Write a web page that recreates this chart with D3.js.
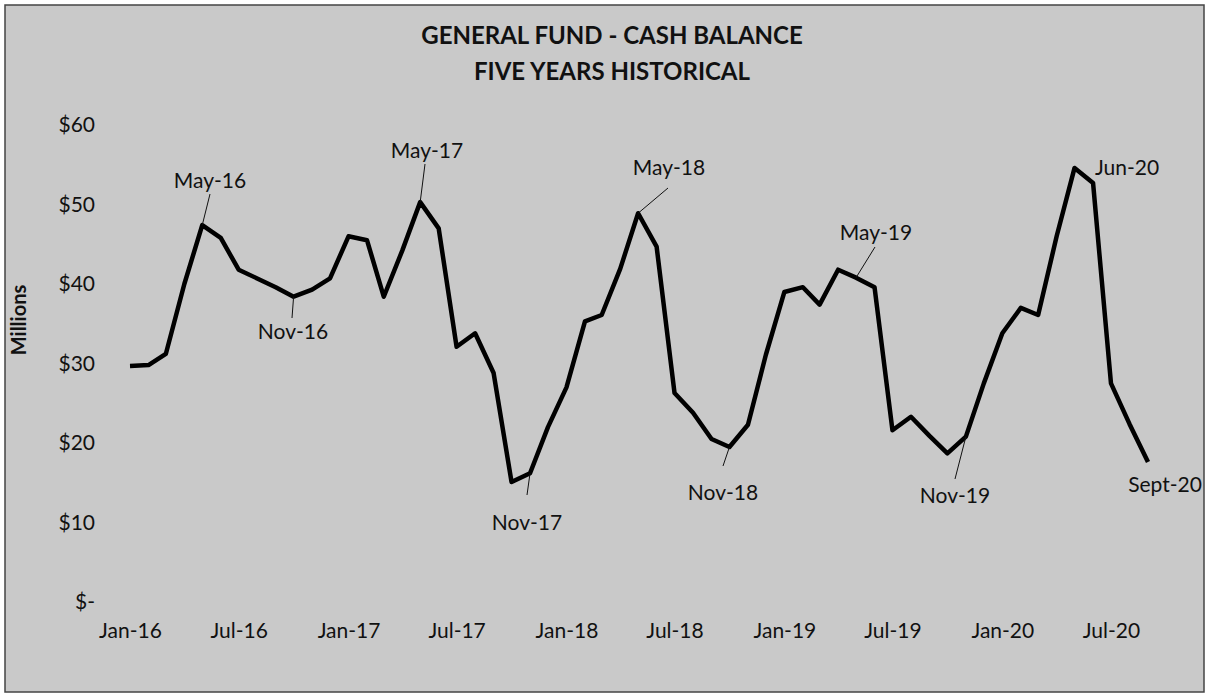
<!DOCTYPE html>
<html>
<head>
<meta charset="utf-8">
<script src="https://cdn.jsdelivr.net/npm/d3@7"></script>
<style>
  html, body { margin: 0; padding: 0; background: #fff; }
  svg { display: block; }
  text { font-family: Lato, "Open Sans", sans-serif; fill: #111; }
</style>
</head>
<body>
<div id="chart"></div>
<script>
// cash balance, $ millions, one value per month Jan-16 .. Sep-20
const startMonth = new Date(2016, 0, 1);
const endMonth = new Date(2020, 8, 1);
const balance = [
  29.7, 29.8, 31.2, 40.0, 47.4, 45.8, 41.8, 40.7, 39.6, 38.4, 39.3, 40.7,
  46.0, 45.5, 38.4, 44.2, 50.3, 47.0, 32.1, 33.8, 28.8, 15.1, 16.2, 22.0,
  27.0, 35.3, 36.1, 41.9, 48.9, 44.7, 26.3, 23.8, 20.5, 19.5, 22.3, 31.1,
  39.0, 39.6, 37.4, 41.8, 40.8, 39.6, 21.6, 23.3, 20.9, 18.7, 20.8, 27.5,
  33.8, 37.0, 36.1, 46.0, 54.6, 52.7, 27.5, 22.4, 17.6
];
const yTicks = [0, 10, 20, 30, 40, 50, 60];
const titleLines = ["GENERAL FUND - CASH BALANCE", "FIVE YEARS HISTORICAL"];
const yTitle = "Millions";

// callout text and the month (index into balance) it points at
const calloutText = ["May-16", "Nov-16", "May-17", "Nov-17", "May-18", "Nov-18", "May-19", "Nov-19", "Jun-20", "Sept-20"];
const calloutIdx  = [4, 9, 16, 22, 28, 33, 40, 46, 53, 56];

const W = 1208, H = 698;

const months = d3.timeMonth.range(startMonth, d3.timeMonth.offset(endMonth, 1));
const data = months.map((m, i) => ({ date: m, v: balance[i] }));

const svg = d3.select("#chart").append("svg")
  .attr("width", W)
  .attr("height", H);

// scanned gray page
svg.append("rect")
  .attr("x", 5).attr("y", 5)
  .attr("width", W - 9).attr("height", H - 11)
  .attr("fill", "#c9c9c9")
  .attr("stroke", "#444")
  .attr("stroke-width", 1.5);

const x = d3.scaleTime().domain([startMonth, endMonth]).range([130, 1148]);
const y = d3.scaleLinear().domain([0, 60]).range([602, 125]);

// title
svg.selectAll(".title")
  .data(titleLines)
  .enter()
  .append("text")
  .attr("class", "title")
  .attr("x", 612)
  .attr("y", (d, i) => 44 + i * 36)
  .attr("text-anchor", "middle")
  .attr("font-size", "24px")
  .attr("font-weight", "bold")
  .text(d => d);

// y axis
const yAxis = d3.axisLeft(y)
  .tickValues(yTicks)
  .tickSize(0)
  .tickPadding(5)
  .tickFormat(d => d === 0 ? "$-" : "$" + d);

const gy = svg.append("g")
  .attr("transform", "translate(100,0)")
  .call(yAxis);
gy.select(".domain").remove();
gy.selectAll("text").attr("font-size", "21px").attr("font-family", "Lato, sans-serif").attr("fill", "#111");

// x axis, every 6 months
const xAxis = d3.axisBottom(x)
  .tickValues(months.filter(m => m.getMonth() % 6 === 0))
  .tickSize(0)
  .tickPadding(21)
  .tickFormat(d3.timeFormat("%b-%y"));

const gx = svg.append("g")
  .attr("transform", "translate(0,602)")
  .call(xAxis);
gx.select(".domain").remove();
gx.selectAll("text").attr("font-size", "21px").attr("font-family", "Lato, sans-serif").attr("fill", "#111");

svg.append("text")
  .attr("transform", "translate(26,320) rotate(-90)")
  .attr("text-anchor", "middle")
  .attr("font-size", "20px")
  .attr("font-weight", "bold")
  .text(yTitle);

// the line
const line = d3.line()
  .x(d => x(d.date))
  .y(d => y(d.v));

svg.append("path")
  .datum(data)
  .attr("fill", "none")
  .attr("stroke", "#000")
  .attr("stroke-width", 4.5)
  .attr("stroke-linejoin", "round")
  .attr("d", line);

// callout placement: label centre and start of leader line (null = no leader)
const calloutPos = [
  { cx: 210, cy: 181, lx: 210, ly: 194 },
  { cx: 293, cy: 332, lx: 292, ly: 318 },
  { cx: 427, cy: 151, lx: 425, ly: 164 },
  { cx: 527, cy: 523, lx: 527, ly: 495 },
  { cx: 669, cy: 168, lx: 668, ly: 188 },
  { cx: 723, cy: 493, lx: 723, ly: 466 },
  { cx: 876, cy: 233, lx: 875, ly: 247 },
  { cx: 955, cy: 496, lx: 955, ly: 479 },
  { cx: 1127, cy: 168, lx: null, ly: null },
  { cx: 1165, cy: 485, lx: null, ly: null }
];

const callouts = calloutText.map((t, i) => ({ text: t, d: data[calloutIdx[i]], p: calloutPos[i] }));

svg.selectAll(".leader")
  .data(callouts.filter(c => c.p.lx !== null))
  .enter()
  .append("line")
  .attr("class", "leader")
  .attr("x1", c => c.p.lx)
  .attr("y1", c => c.p.ly)
  .attr("x2", c => x(c.d.date))
  .attr("y2", c => y(c.d.v))
  .attr("stroke", "#111")
  .attr("stroke-width", 1);

svg.selectAll(".callout")
  .data(callouts)
  .enter()
  .append("text")
  .attr("class", "callout")
  .attr("x", c => c.p.cx)
  .attr("y", c => c.p.cy)
  .attr("dy", "0.35em")
  .attr("text-anchor", "middle")
  .attr("font-size", "21px")
  .text(c => c.text);
</script>
</body>
</html>
